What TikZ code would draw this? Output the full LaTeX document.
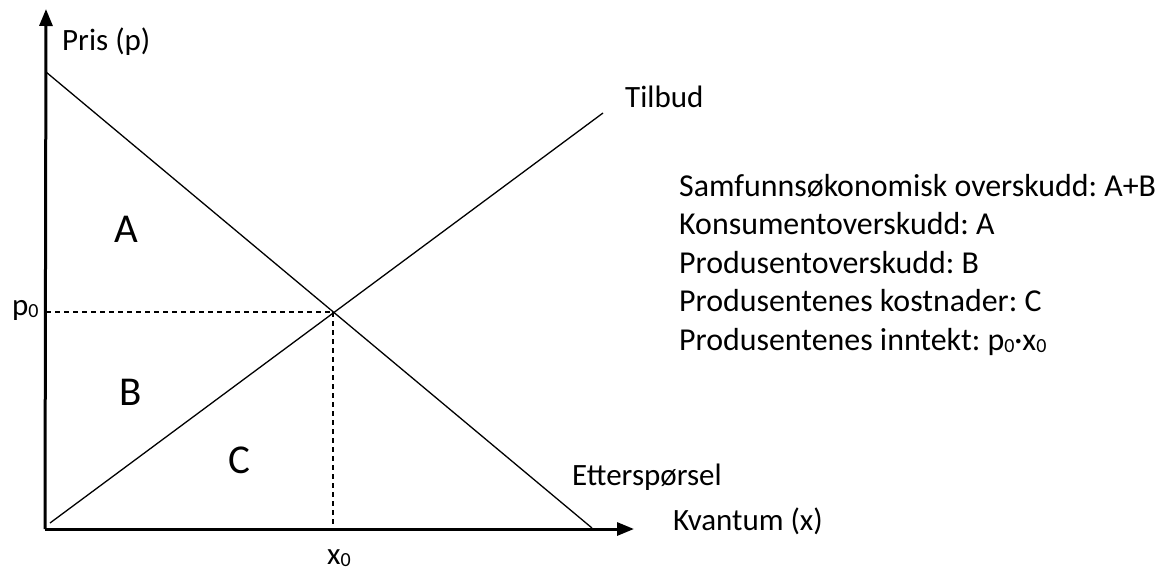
\documentclass[tikz,border=0pt]{standalone}
\usepackage{fontspec}
\setmainfont{Carlito}
\usetikzlibrary{arrows.meta}
\frenchspacing
\newcommand\zsub{\raisebox{-2.5pt}{\fontsize{20}{20}\selectfont 0}}
\tikzset{
  axis/.style={line width=3pt,-{Triangle[length=17pt,width=13pt]}},
  curve/.style={line width=1.3pt},
  guide/.style={line width=1.2pt,dash pattern=on 5pt off 4pt},
  lbl/.style={inner sep=0pt,anchor=base west,font=\fontsize{31}{37}\selectfont},
  listline/.style={inner sep=0pt,anchor=base west,font=\fontsize{31.9}{38}\selectfont},
  area/.style={inner sep=0pt,anchor=base west,font=\fontsize{41}{48}\selectfont},
}
\begin{document}
\begin{tikzpicture}[x=1pt,y=-1pt]
\useasboundingbox (0,0) rectangle (1159,571);
\coordinate (O) at (46,529);
\coordinate (Ytop) at (46,9);
\coordinate (Xend) at (634,529);
\coordinate (D1) at (46,72);
\coordinate (D2) at (592,528);
\coordinate (S1) at (50,523);
\coordinate (S2) at (603,113);
\coordinate (E) at (333,312);
\coordinate (P0) at (46,312);
\coordinate (X0) at (333,528);
\draw[curve] (D1) -- (D2);
\draw[curve] (S1) -- (S2);
\draw[guide] (P0) -- (E);
\draw[guide] (E) -- (X0);
\draw[axis] (45,529) -- (Ytop);
\draw[axis] (44.5,529) -- (Xend);
\node[lbl] (pris) at (62,50) {Pris (p)};
\node[lbl] (tilbud) at (625,107) {Tilbud};
\node[lbl] (ettersp) at (572,485) {Etterspørsel};
\node[lbl] (kvantum) at (673,530) {Kvantum (x)};
\node[lbl] (p0) at (12,315) {p\zsub};
\node[lbl] (x0) at (327,564) {x\zsub};
\node[area] (A) at (114,242) {A};
\node[area] (B) at (119,405) {B};
\node[area] (C) at (228,473) {C};
\node[listline] (l1) at (679,196) {Samfunnsøkonomisk overskudd: A+B};
\node[listline] (l2) at (679,234.5) {Konsumentoverskudd: A};
\node[listline] (l3) at (679,273) {Produsentoverskudd: B};
\node[listline] (l4) at (679,311.5) {Produsentenes kostnader: C};
\node[listline] (l5) at (679,350) {Produsentenes inntekt: p\zsub·x\zsub};
\end{tikzpicture}
\end{document}
